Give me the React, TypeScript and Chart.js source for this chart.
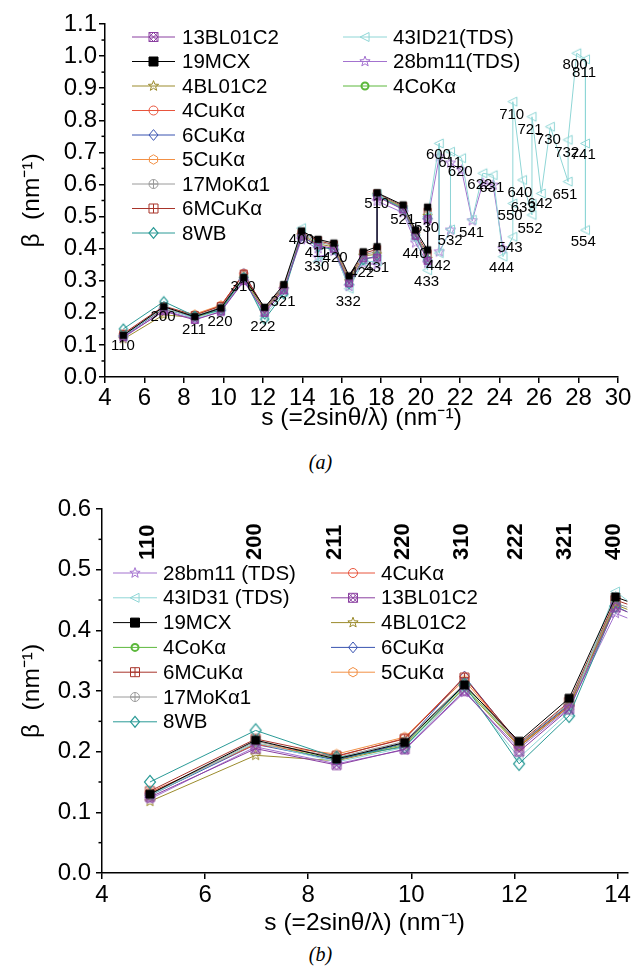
import React, { useEffect, useRef } from 'react';
import { Chart, registerables } from 'chart.js';

Chart.register(...registerables);

const FONT = "'Liberation Sans', Arial, Helvetica, sans-serif";

// ---------------- DATA ----------------
// common reflection path (s in nm^-1)
const sCore = [4.93, 6.98, 8.55, 9.87, 11.03, 12.09, 13.06, 13.96];
const hklCore = ['110', '200', '211', '220', '310', '222', '321', '400'];
const sExt = [14.8, 15.6, 16.37, 17.09, 17.79, 17.79, 19.11, 19.74, 20.35, 20.35];
const hklExt = ['411', '420', '332', '422', '431', '510', '521', '440', '433', '530'];

const v19MCX = [0.13, 0.219, 0.188, 0.215, 0.31, 0.217, 0.288, 0.455, 0.429, 0.417, 0.315, 0.39, 0.406, 0.574, 0.536, 0.458, 0.396, 0.529];
const v13BL01C2 = [0.125, 0.205, 0.178, 0.204, 0.3, 0.2, 0.27, 0.438, 0.41, 0.4, 0.292, 0.37, 0.372, 0.562, 0.522, 0.44, 0.362, 0.492];
const v4BL01C2 = [0.118, 0.194, 0.185, 0.21, 0.305, 0.208, 0.274, 0.442, 0.415, 0.405, 0.298, 0.378, 0.382, 0.568, 0.528, 0.446, 0.368, 0.502];
const v17MoKa1 = [0.13, 0.217, 0.19, 0.217, 0.312, 0.212, 0.28, 0.445, 0.42, 0.41, 0.302, 0.382, 0.39, 0.57, 0.53, 0.45, 0.375, 0.505];
const v6MCuKa = [0.135, 0.221, 0.193, 0.221, 0.322, 0.214, 0.282, 0.45, 0.425, 0.412, 0.308, 0.385, 0.398, 0.572, 0.532, 0.452, 0.385, 0.515];
const v8WB = [0.15, 0.235, 0.19, 0.208, 0.31, 0.18, 0.259, 0.44, 0.405, 0.398, 0.29, 0.365, 0.378, 0.565, 0.525, 0.442, 0.365, 0.495];
const v4CuKa = [0.133, 0.212, 0.192, 0.222, 0.323, 0.208, 0.276, 0.445];
const v6CuKa = [0.128, 0.212, 0.186, 0.214, 0.324, 0.212, 0.277, 0.44];
const v5CuKa = [0.131, 0.213, 0.196, 0.224, 0.318, 0.21, 0.275, 0.442];
const v4CoKa = [0.128, 0.214, 0.187, 0.212, 0.308, 0.21, 0.278, 0.447];

// 28bm11 (TDS)
const s28 = [4.93, 6.98, 8.55, 9.87, 11.03, 12.09, 13.06, 13.96, 14.8, 14.8, 15.6, 16.37, 17.09, 17.79, 17.79, 19.11, 19.74, 20.35, 20.35, 20.94, 20.94, 21.51, 21.51, 22.07, 22.61, 23.15, 23.67, 24.17];
const hkl28 = ['110', '200', '211', '220', '310', '222', '321', '400', '411', '330', '420', '332', '422', '431', '510', '521', '440', '433', '530', '600', '442', '532', '611', '620', '541', '622', '631', '444'];
const v28 = [0.122, 0.208, 0.18, 0.203, 0.298, 0.205, 0.272, 0.428, 0.4, 0.372, 0.392, 0.282, 0.355, 0.35, 0.548, 0.512, 0.418, 0.355, 0.488, 0.686, 0.39, 0.458, 0.667, 0.645, 0.487, 0.604, 0.598, 0.4];

// 43ID21 (TDS)
const s43 = [4.93, 6.98, 8.55, 9.87, 11.03, 12.09, 13.06, 13.96, 14.8, 14.8, 15.6, 16.37, 17.09, 17.79, 17.79, 19.11, 19.74, 20.35, 20.35, 20.94, 20.94, 21.51, 21.51, 22.07, 22.61, 23.15, 23.67, 24.17, 24.67, 24.67, 24.67, 25.16, 25.64, 25.64, 25.64, 26.11, 26.57, 27.47, 27.47, 27.91, 28.35, 28.35, 28.35];
const hkl43 = ['110', '200', '211', '220', '310', '222', '321', '400', '411', '330', '420', '332', '422', '431', '510', '521', '440', '433', '530', '600', '442', '532', '611', '620', '541', '622', '631', '444', '543', '550', '710', '640', '552', '633', '721', '642', '730', '651', '732', '800', '811', '741', '554'];
const v43 = [0.128, 0.215, 0.183, 0.207, 0.303, 0.19, 0.265, 0.464, 0.41, 0.36, 0.4, 0.275, 0.36, 0.36, 0.57, 0.52, 0.43, 0.333, 0.5, 0.728, 0.386, 0.46, 0.702, 0.682, 0.49, 0.635, 0.629, 0.375, 0.437, 0.541, 0.858, 0.614, 0.505, 0.54, 0.811, 0.572, 0.78, 0.609, 0.739, 1.009, 0.99, 0.728, 0.458];

// hkl annotations, panel (a)
const labTopHkl = ['110', '200', '211', '220', '310', '222', '321', '400', '411', '330', '420', '332', '422', '431', '510', '521', '530', '440', '442', '433', '600', '611', '620', '532', '541', '622', '631', '444', '543', '550', '640', '633', '642', '552', '710', '721', '730', '732', '741', '651', '800', '811', '554'];
const labTopS = [4.91, 6.94, 8.51, 9.83, 11.0, 12.0, 13.02, 13.95, 14.73, 14.73, 15.66, 16.33, 17.01, 17.77, 17.77, 19.09, 20.3, 19.71, 20.9, 20.3, 20.9, 21.49, 22.0, 21.49, 22.58, 23.0, 23.6, 24.1, 24.53, 24.53, 25.03, 25.2, 26.05, 25.54, 24.61, 25.54, 26.47, 27.4, 28.24, 27.31, 27.82, 28.28, 28.24];
const labTopB = [0.097, 0.188, 0.146, 0.172, 0.281, 0.157, 0.235, 0.426, 0.387, 0.344, 0.37, 0.235, 0.323, 0.339, 0.539, 0.489, 0.466, 0.383, 0.346, 0.297, 0.692, 0.666, 0.64, 0.425, 0.45, 0.598, 0.588, 0.339, 0.401, 0.502, 0.574, 0.526, 0.539, 0.463, 0.816, 0.77, 0.739, 0.699, 0.692, 0.567, 0.972, 0.948, 0.422];

// hkl annotations, panel (b)
const labBotHkl = ['110', '200', '211', '220', '310', '222', '321', '400'];
const labBotS = [4.9, 6.97, 8.51, 9.83, 10.99, 12.02, 12.97, 13.93];
const labBotBase = 0.516;

// axes
const xTicksTop = [4, 6, 8, 10, 12, 14, 16, 18, 20, 22, 24, 26, 28, 30];
const yTicksTop = [0, 0.1, 0.2, 0.3, 0.4, 0.5, 0.6, 0.7, 0.8, 0.9, 1.0, 1.1];
const yMinorTop = [0.05, 0.15, 0.25, 0.35, 0.45, 0.55, 0.65, 0.75, 0.85, 0.95, 1.05];
const xTicksBot = [4, 6, 8, 10, 12, 14];
const yTicksBot = [0, 0.1, 0.2, 0.3, 0.4, 0.5, 0.6];
const yMinorBot = [0.05, 0.15, 0.25, 0.35, 0.45, 0.55];

const xs18 = sCore.concat(sExt);

type Series = { key: string; top: string; bottom: string; color: string; marker: string; lw: number; rT: number; rB: number; xs: number[]; ys: number[] };

const SERIES: Series[] = [
  { key: '19MCX', top: '19MCX', bottom: '19MCX', color: '#000000', marker: 'fsquare', lw: 1, rT: 3.2, rB: 4, xs: xs18, ys: v19MCX },
  { key: '13BL01C2', top: '13BL01C2', bottom: '13BL01C2', color: '#8a3fa0', marker: 'xsquare', lw: 1, rT: 3.5, rB: 4.5, xs: xs18, ys: v13BL01C2 },
  { key: '8WB', top: '8WB', bottom: '8WB', color: '#2a9a96', marker: 'diamond', lw: 1.2, rT: 4, rB: 5.5, xs: xs18, ys: v8WB },
  { key: '43ID', top: '43ID21(TDS)', bottom: '43ID31 (TDS)', color: '#8fd6d6', marker: 'ltri', lw: 1, rT: 4.5, rB: 4.5, xs: s43, ys: v43 },
  { key: '28bm11', top: '28bm11(TDS)', bottom: '28bm11 (TDS)', color: '#a372cf', marker: 'star', lw: 1, rT: 4.5, rB: 4.5, xs: s28, ys: v28 },
  { key: '4BL01C2', top: '4BL01C2', bottom: '4BL01C2', color: '#9b8b2c', marker: 'star', lw: 1, rT: 4, rB: 4.5, xs: xs18, ys: v4BL01C2 },
  { key: '17MoKa1', top: '17MoKα1', bottom: '17MoKα1', color: '#9a9a9a', marker: 'circleplus', lw: 1, rT: 3.8, rB: 4.5, xs: xs18, ys: v17MoKa1 },
  { key: '6MCuKa', top: '6MCuKα', bottom: '6MCuKα', color: '#a8342a', marker: 'squareplus', lw: 1, rT: 3.5, rB: 4.5, xs: xs18, ys: v6MCuKa },
  { key: '4CuKa', top: '4CuKα', bottom: '4CuKα', color: '#e8543c', marker: 'circle', lw: 1, rT: 4, rB: 4.5, xs: sCore, ys: v4CuKa },
  { key: '6CuKa', top: '6CuKα', bottom: '6CuKα', color: '#3953b0', marker: 'diamond', lw: 1, rT: 3.8, rB: 4.5, xs: sCore, ys: v6CuKa },
  { key: '5CuKa', top: '5CuKα', bottom: '5CuKα', color: '#f29045', marker: 'hexagon', lw: 1, rT: 4, rB: 4.5, xs: sCore, ys: v5CuKa },
  { key: '4CoKa', top: '4CoKα', bottom: '4CoKα', color: '#5cb83c', marker: 'ring', lw: 2, rT: 2.8, rB: 3.2, xs: sCore, ys: v4CoKa },
];

const LEGEND_TOP = [
  { x0: 132, x1: 175, tx: 182, y0: 37, dy: 24.5, keys: ['13BL01C2', '19MCX', '4BL01C2', '4CuKa', '6CuKa', '5CuKa', '17MoKa1', '6MCuKa', '8WB'] },
  { x0: 343, x1: 387, tx: 393, y0: 37, dy: 24.5, keys: ['43ID', '28bm11', '4CoKa'] },
];
const LEGEND_BOT = [
  { x0: 113, x1: 157, tx: 163, y0: 93, dy: 24.8, keys: ['28bm11', '43ID', '19MCX', '4CoKa', '6MCuKa', '17MoKa1', '8WB'] },
  { x0: 331, x1: 375, tx: 381, y0: 93, dy: 24.8, keys: ['4CuKa', '13BL01C2', '4BL01C2', '6CuKa', '5CuKa'] },
];

// ---------------- MARKERS ----------------
function drawMarker(ctx: CanvasRenderingContext2D, type: string, x: number, y: number, r: number, color: string, lw: number) {
  ctx.save();
  ctx.strokeStyle = color;
  ctx.fillStyle = color;
  ctx.lineWidth = lw;
  ctx.beginPath();
  if (type === 'fsquare') {
    ctx.rect(x - r, y - r, 2 * r, 2 * r);
    ctx.fill();
    ctx.stroke();
  } else if (type === 'squareplus') {
    ctx.rect(x - r, y - r, 2 * r, 2 * r);
    ctx.moveTo(x - r, y); ctx.lineTo(x + r, y);
    ctx.moveTo(x, y - r); ctx.lineTo(x, y + r);
    ctx.stroke();
  } else if (type === 'xsquare') {
    ctx.rect(x - r, y - r, 2 * r, 2 * r);
    ctx.moveTo(x - r, y - r); ctx.lineTo(x + r, y + r);
    ctx.moveTo(x + r, y - r); ctx.lineTo(x - r, y + r);
    ctx.moveTo(x, y - r); ctx.lineTo(x + r, y); ctx.lineTo(x, y + r); ctx.lineTo(x - r, y); ctx.closePath();
    ctx.stroke();
  } else if (type === 'circle' || type === 'ring') {
    ctx.arc(x, y, r, 0, Math.PI * 2);
    ctx.stroke();
  } else if (type === 'circleplus') {
    ctx.arc(x, y, r, 0, Math.PI * 2);
    ctx.moveTo(x - r, y); ctx.lineTo(x + r, y);
    ctx.moveTo(x, y - r); ctx.lineTo(x, y + r);
    ctx.stroke();
  } else if (type === 'diamond') {
    ctx.moveTo(x, y - r * 1.2); ctx.lineTo(x + r, y); ctx.lineTo(x, y + r * 1.2); ctx.lineTo(x - r, y); ctx.closePath();
    ctx.stroke();
  } else if (type === 'hexagon') {
    for (let k = 0; k < 6; k++) {
      const a = -Math.PI / 2 + (k * Math.PI) / 3;
      const px = x + r * 1.05 * Math.cos(a);
      const py = y + r * 1.05 * Math.sin(a);
      if (k === 0) ctx.moveTo(px, py); else ctx.lineTo(px, py);
    }
    ctx.closePath();
    ctx.stroke();
  } else if (type === 'star') {
    for (let k = 0; k < 10; k++) {
      const a = -Math.PI / 2 + (k * Math.PI) / 5;
      const rr = k % 2 === 0 ? r * 1.2 : r * 0.5;
      const px = x + rr * Math.cos(a);
      const py = y + rr * Math.sin(a);
      if (k === 0) ctx.moveTo(px, py); else ctx.lineTo(px, py);
    }
    ctx.closePath();
    ctx.stroke();
  } else if (type === 'ltri') {
    ctx.moveTo(x - r * 1.1, y); ctx.lineTo(x + r * 0.9, y - r); ctx.lineTo(x + r * 0.9, y + r); ctx.closePath();
    ctx.stroke();
  }
  ctx.restore();
}

function markerCanvas(type: string, color: string, r: number, lw: number) {
  const size = Math.ceil(r * 2.8 + lw * 2 + 2);
  const c = document.createElement('canvas');
  c.width = size;
  c.height = size;
  const ctx = c.getContext('2d') as CanvasRenderingContext2D;
  drawMarker(ctx, type, size / 2, size / 2, r, color, lw);
  return c;
}

// ---------------- PLUGINS ----------------
function legendPlugin(cols: typeof LEGEND_TOP, panel: 'top' | 'bottom') {
  return {
    id: 'customLegend',
    afterDraw(chart: any) {
      const ctx: CanvasRenderingContext2D = chart.ctx;
      ctx.save();
      ctx.font = `20.5px ${FONT}`;
      ctx.textBaseline = 'middle';
      ctx.textAlign = 'left';
      cols.forEach((col) => {
        col.keys.forEach((k, i) => {
          const s = SERIES.find((q) => q.key === k) as Series;
          const y = col.y0 + i * col.dy;
          ctx.strokeStyle = s.color;
          ctx.lineWidth = 1;
          ctx.beginPath();
          ctx.moveTo(col.x0, y);
          ctx.lineTo(col.x1, y);
          ctx.stroke();
          drawMarker(ctx, s.marker, (col.x0 + col.x1) / 2, y, s.marker === 'ring' ? 3.5 : 4.5, s.color, s.lw);
          ctx.fillStyle = '#000';
          ctx.fillText(panel === 'top' ? s.top : s.bottom, col.tx, y + 1);
        });
      });
      ctx.restore();
    },
  };
}

function minorTickPlugin(vals: number[]) {
  return {
    id: 'minorTicks',
    afterDraw(chart: any) {
      const ctx: CanvasRenderingContext2D = chart.ctx;
      const y = chart.scales.y;
      ctx.save();
      ctx.strokeStyle = '#000';
      ctx.lineWidth = 1.5;
      vals.forEach((v) => {
        const py = y.getPixelForValue(v);
        ctx.beginPath();
        ctx.moveTo(y.right - 3.5, py);
        ctx.lineTo(y.right, py);
        ctx.stroke();
      });
      ctx.restore();
    },
  };
}

function hklTopPlugin() {
  return {
    id: 'hklTop',
    afterDatasetsDraw(chart: any) {
      const ctx: CanvasRenderingContext2D = chart.ctx;
      const { x, y } = chart.scales;
      ctx.save();
      ctx.font = `15px ${FONT}`;
      ctx.fillStyle = '#000';
      ctx.textAlign = 'center';
      ctx.textBaseline = 'middle';
      labTopHkl.forEach((t, i) => ctx.fillText(t, x.getPixelForValue(labTopS[i]), y.getPixelForValue(labTopB[i])));
      ctx.restore();
    },
  };
}

function hklBotPlugin() {
  return {
    id: 'hklBot',
    afterDatasetsDraw(chart: any) {
      const ctx: CanvasRenderingContext2D = chart.ctx;
      const { x, y } = chart.scales;
      ctx.save();
      ctx.font = `bold 22px ${FONT}`;
      ctx.fillStyle = '#000';
      ctx.textAlign = 'left';
      ctx.textBaseline = 'middle';
      labBotHkl.forEach((t, i) => {
        ctx.save();
        ctx.translate(x.getPixelForValue(labBotS[i]), y.getPixelForValue(labBotBase));
        ctx.rotate(-Math.PI / 2);
        ctx.fillText(t, 0, 0);
        ctx.restore();
      });
      ctx.restore();
    },
  };
}

// ---------------- CONFIG ----------------
function makeConfig(panel: 'top' | 'bottom'): any {
  const top = panel === 'top';
  const datasets = SERIES.map((s) => ({
    label: top ? s.top : s.bottom,
    data: s.xs.map((xv, i) => ({ x: xv, y: s.ys[i] })),
    showLine: true,
    borderColor: s.color,
    backgroundColor: s.color,
    borderWidth: 1,
    pointStyle: markerCanvas(s.marker, s.color, top ? s.rT : s.rB, s.lw),
    pointRadius: 4,
    pointHoverRadius: 4,
    tension: 0,
  }));
  const xTicks = top ? xTicksTop : xTicksBot;
  const yTicks = top ? yTicksTop : yTicksBot;
  const axisFont = { family: FONT, size: 24 };
  const titleFont = { family: FONT, size: 24.5 };
  return {
    type: 'scatter',
    data: { datasets },
    plugins: [
      legendPlugin(top ? LEGEND_TOP : LEGEND_BOT, panel),
      minorTickPlugin(top ? yMinorTop : yMinorBot),
      top ? hklTopPlugin() : hklBotPlugin(),
    ],
    options: {
      animation: false,
      responsive: false,
      devicePixelRatio: 1,
      events: [],
      layout: { padding: top ? { left: 0, right: 15, top: 24, bottom: 0 } : { left: 0, right: 5, top: 29, bottom: 0 } },
      plugins: { legend: { display: false }, tooltip: { enabled: false }, title: { display: false } },
      scales: {
        x: {
          type: 'linear',
          min: 4,
          max: top ? 30 : 14.19,
          afterBuildTicks: (sc: any) => { sc.ticks = xTicks.map((v) => ({ value: v })); },
          afterFit: (sc: any) => { sc.height = top ? 68 : 67; },
          ticks: { font: axisFont, color: '#000', padding: top ? 1 : 2, maxRotation: 0, autoSkip: false, callback: (v: any) => String(v) },
          grid: { display: true, drawOnChartArea: false, drawTicks: true, tickLength: 6, color: '#000', lineWidth: 1.5 },
          border: { display: true, color: '#000', width: 1.5 },
          title: { display: true, text: 's (=2sinθ/λ) (nm⁻¹)', font: titleFont, color: '#000', padding: { top: 0, bottom: top ? 12 : 2 } },
        },
        y: {
          type: 'linear',
          min: 0,
          max: top ? 1.1 : 0.6,
          afterBuildTicks: (sc: any) => { sc.ticks = yTicks.map((v) => ({ value: v })); },
          afterFit: (sc: any) => { sc.width = top ? 105 : 102; },
          ticks: { font: axisFont, color: '#000', padding: top ? 2 : 5, callback: (v: any) => Number(v).toFixed(1) },
          grid: { display: true, drawOnChartArea: false, drawTicks: true, tickLength: 6, color: '#000', lineWidth: 1.5 },
          border: { display: true, color: '#000', width: 1.5 },
          title: { display: true, text: 'β  (nm⁻¹)', font: titleFont, color: '#000', padding: { top: 18, bottom: 0 } },
        },
      },
    },
  };
}

function ChartCanvas({ panel, top, height }: { panel: 'top' | 'bottom'; top: number; height: number }) {
  const ref = useRef<HTMLCanvasElement | null>(null);
  useEffect(() => {
    if (!ref.current) return;
    const chart = new Chart(ref.current, makeConfig(panel));
    return () => chart.destroy();
  }, [panel]);
  return (
    <canvas
      ref={ref}
      width={633}
      height={height}
      style={{ position: 'absolute', left: 0, top, width: 633, height, display: 'block' }}
    />
  );
}

const captionStyle: React.CSSProperties = {
  position: 'absolute',
  left: 4,
  width: 633,
  textAlign: 'center',
  fontFamily: "'Liberation Serif', 'DejaVu Serif', serif",
  fontStyle: 'italic',
  fontSize: 20,
  lineHeight: '24px',
  color: '#000',
};

export default function App() {
  return (
    <div style={{ position: 'absolute', left: 0, top: 0, width: 633, height: 966, background: '#fff', overflow: 'hidden' }}>
      <ChartCanvas panel="top" top={0} height={445} />
      <div style={{ ...captionStyle, top: 450 }}>(a)</div>
      <ChartCanvas panel="bottom" top={480} height={460} />
      <div style={{ ...captionStyle, top: 942 }}>(b)</div>
    </div>
  );
}
